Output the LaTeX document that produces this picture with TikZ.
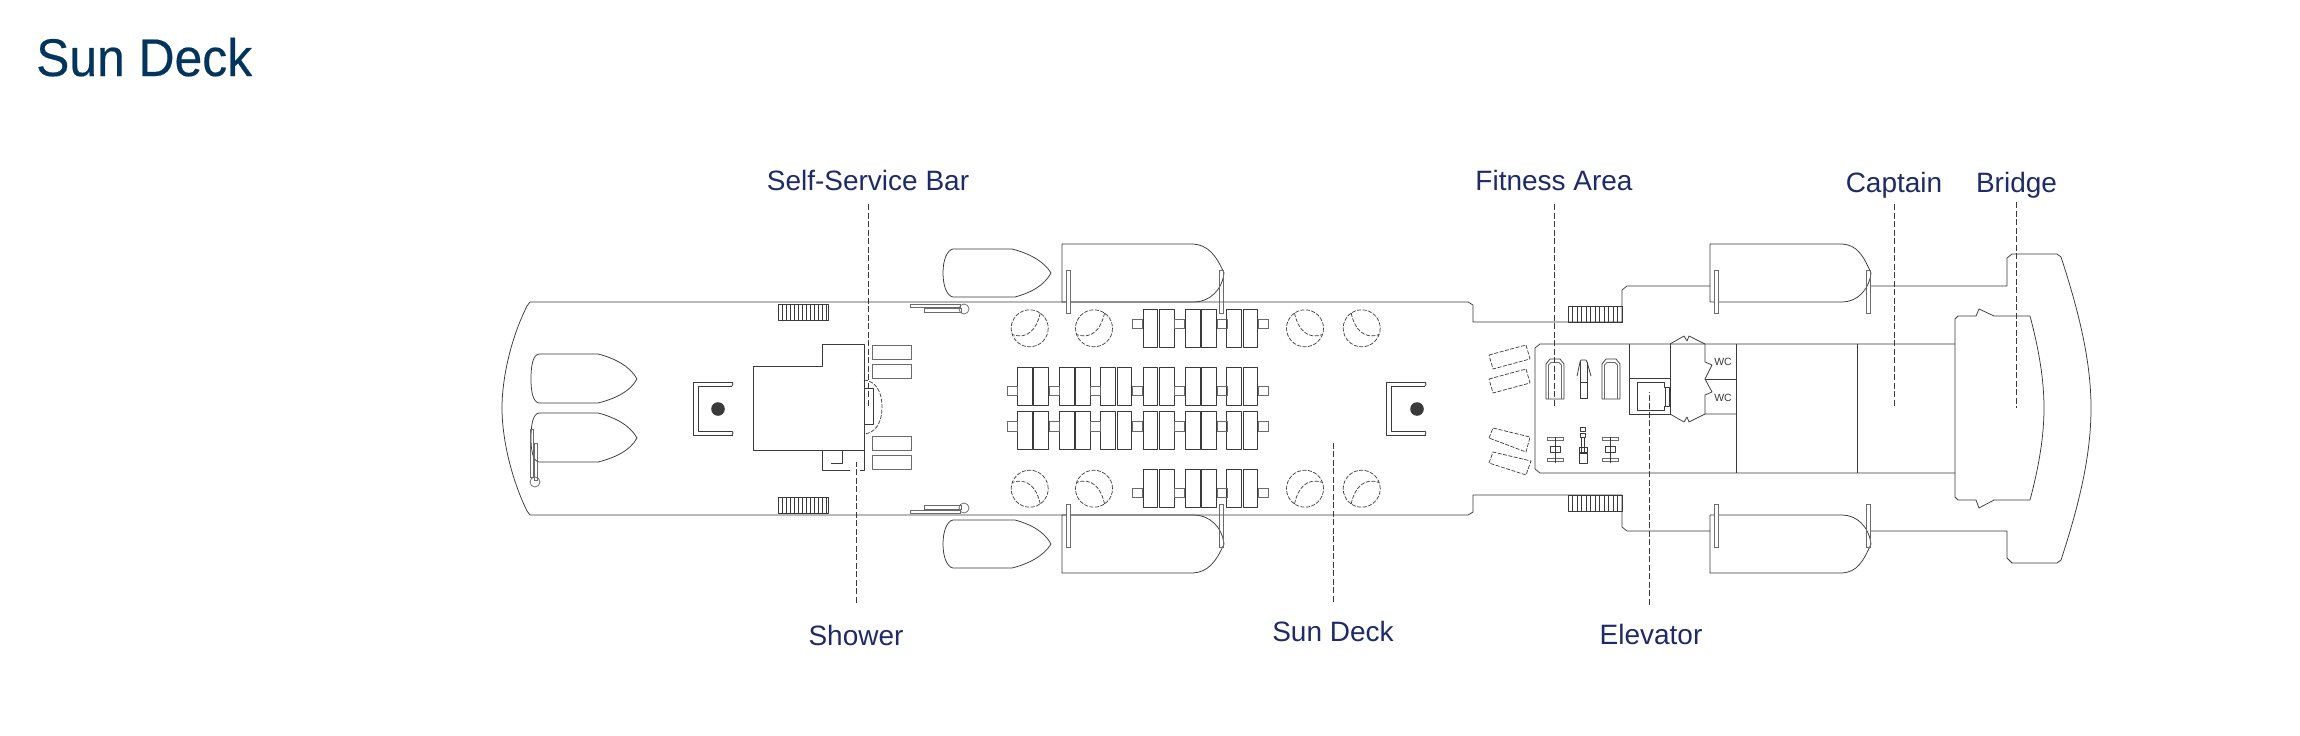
\documentclass[tikz,border=0pt]{standalone}
\usepackage{xcolor}
\usepackage{fontspec}
\setmainfont{Liberation Sans}
\newfontfamily\headfont[FakeStretch=0.94,FakeBold=0.35]{Liberation Sans}
\definecolor{planline}{HTML}{3A3A3A}
\definecolor{headblue}{HTML}{03355C}
\definecolor{tagblue}{HTML}{1F2A6B}
\tikzset{
	plan/.style={draw=planline, line width=0.75pt, line join=round},
	soft/.style={draw=planline!75, line width=0.75pt},
	dashplan/.style={draw=planline, line width=0.7pt, dash pattern=on 4pt off 1.5pt},
	leader/.style={draw=planline, line width=0.8pt, dash pattern=on 6pt off 2.5pt},
	tagtop/.style={font=\fontsize{28}{32}\selectfont, text=tagblue, inner sep=0pt, text depth=0pt, anchor=base},
	tagbot/.style={tagtop, text height=20pt},
}
\begin{document}
\begin{tikzpicture}[x=1pt, y=-1pt]
	\useasboundingbox (0,0) rectangle (2300,736);
	\node[font=\headfont\fontsize{53}{60}\selectfont, text=headblue, inner sep=0pt, anchor=base west] (title) at (36,76) {Sun Deck};

	% hull
	\draw[plan] (530,302) -- (1468,302) -- (1473,305) -- (1473,322) -- (1622,322) -- (1622,290) -- (1627,286) -- (1710,286);
	\draw[plan] (1870,286) -- (2007,286) -- (2007,258) -- (2012,254) -- (2057,254) -- (2061,257)
		.. controls (2081,318) and (2091,365) .. (2091,408)
		.. controls (2091,452) and (2081,499) .. (2061,560)
		-- (2057,563) -- (2012,563) -- (2007,558) -- (2007,531) -- (1870,531);
	\draw[plan] (1710,531) -- (1627,531) -- (1622,527) -- (1622,495) -- (1473,495) -- (1473,512) -- (1468,515) -- (530,515) -- (527,511)
		.. controls (510,476) and (502,436) .. (502,408)
		.. controls (502,380) and (510,340) .. (527,306) -- (530,302);

	% stern boats
	\foreach \y in {354,413} {
		\draw[plan] (539,\y) -- (598,\y) .. controls (614,\y+4) and (630,\y+12) .. (637,\y+25)
			.. controls (630,\y+38) and (614,\y+45) .. (598,\y+49) -- (539,\y+49)
			.. controls (533,\y+48) and (531,\y+38) .. (531,\y+25) .. controls (531,\y+11) and (533,\y+1) .. (539,\y);
	}
	\draw[soft] (530,429) rectangle (533,477);
	\draw[soft] (534,443) rectangle (537,480);
	\draw[soft] (535,482) circle (5);

	% things on both sides
	\foreach \mir/\off in {1/0,-1/817} {
		\begin{scope}[shift={(0,\off)}, yscale=\mir]
			% tender
			\draw[plan] (953,249) -- (1012,249) .. controls (1028,253) and (1044,261) .. (1051,273)
				.. controls (1044,286) and (1030,293) .. (1015,297) -- (953,297)
				.. controls (947,296) and (943,286) .. (943,273) .. controls (943,260) and (947,250) .. (953,249);
			% big boats
			\foreach \x/\a/\b/\e in {1062/1193/1224/1066, 1710/1842/1871/1714} {
				\draw[plan] (\x,302) -- (\x,244) -- (\a,244) .. controls (\a+15,245) and (\b-8,255) .. (\b,273)
					.. controls (\b-2,290) and (\b-14,302) .. (\a,302) -- (\x,302);
				\draw[soft, fill=white] (\e,270) rectangle (\e+4,313);
				\draw[soft] (\b-5,270) rectangle (\b-1,313);
			}
			% stairs
			\foreach \x in {778,782,...,828} {
				\draw[plan] (\x,304) -- (\x,320);
			}
			\draw[plan] (778,304) rectangle (828,320);
			\foreach \x in {1568,1572.5,...,1622} {
				\draw[plan] (\x,306) -- (\x,322);
			}
			\draw[plan] (1568,306) rectangle (1622,322);
			% davit
			\draw[soft] (910,304) rectangle (960,307);
			\draw[soft] (924,308) rectangle (961,312);
			\draw[soft] (964,309) circle (5);
			% round tables
			\foreach \x/\s in {1029.7/1,1094/1,1305/-1,1361.7/-1} {
				\draw[dashplan] (\x,328.3) circle (18.5);
				\draw[dashplan] (\x+\s*10.5,313) .. controls (\x+\s*7.5,328.5) and (\x-\s*2,340) .. (\x-\s*17.5,334.5);
			}
			% short row of seats
			\foreach \x in {1143,1185.3,1226.7} {
				\draw[plan] (\x,309.3) rectangle +(14.7,38.4);
				\draw[plan] (\x+16.2,309.3) rectangle +(14.7,38.4);
			}
			\foreach \x in {1132,1174,1217,1258} {
				\draw[soft] (\x,319.2) rectangle +(10,9.6);
			}
		\end{scope}
	}

	% long rows of seats
	\foreach \y/\t in {367.3/386,411.3/421.3} {
		\foreach \x in {1017.3,1059.3,1100.7,1143,1185.3,1226.7} {
			\draw[plan] (\x,\y) rectangle +(14.7,38.4);
			\draw[plan] (\x+16.2,\y) rectangle +(14.7,38.4);
		}
		\foreach \x in {1007,1049,1090,1132,1174,1217,1258} {
			\draw[soft] (\x,\t) rectangle +(10,9.6);
		}
	}

	% masts
	\foreach \x/\d in {693/718,1386/1417} {
		\draw[plan] (\x+40,382) -- (\x,382) -- (\x,435) -- (\x+40,435);
		\draw[plan] (\x+39,386) -- (\x+5,386) -- (\x+5,431) -- (\x+39,431);
		\draw[plan] (\x+39,382) -- (\x+40,384) -- (\x+39,386);
		\draw[plan] (\x+39,431) -- (\x+40,433) -- (\x+39,435);
		\fill[planline] (\d,409) circle (6.8);
	}

	% bar house
	\draw[plan] (753,366) -- (822,366) -- (822,344) -- (864,344) -- (864,450) -- (753,450) -- cycle;
	\draw[plan] (822,450) -- (822,470) -- (850,470);
	\draw[plan] (860,470) -- (864,470) -- (864,450);
	\draw[plan] (842,450) -- (842,463) -- (831,463);
	\foreach \y in {345,364,436,455} {
		\draw[soft] (872,\y) rectangle (911,\y+14);
	}
	\draw[plan] (864,388) rectangle (873,424);
	\draw[dashplan] (864,380) .. controls (876,381) and (882,392) .. (882,407) .. controls (882,422) and (876,433) .. (864,434);

	% benches
	\draw[dashplan] (1489,355) -- (1526,345) -- (1530,359) -- (1493,369) -- cycle;
	\draw[dashplan] (1489,379) -- (1526,369) -- (1530,383) -- (1493,393) -- cycle;
	\draw[dashplan] (1489,438) -- (1493,428) -- (1530,437) -- (1526,452) -- cycle;
	\draw[dashplan] (1489,463) -- (1493,452) -- (1531,461) -- (1526,475) -- cycle;

	% deckhouse
	\draw[plan] (1955,344) -- (1540,344) -- (1535,348) -- (1535,469) -- (1540,473) -- (1955,473);
	\draw[plan] (1736,344) -- (1736,473);
	\draw[plan] (1857,344) -- (1857,473);
	\draw[plan] (1629.5,344) -- (1629.5,414) -- (1670,414) -- (1670,344);
	\draw[plan] (1629.5,378) -- (1670,378);
	\draw[plan] (1637,382) -- (1664,382) -- (1664,387) -- (1665,387) -- (1665,406) -- (1664,406) -- (1664,410) -- (1637,410) -- cycle;
	\draw[plan] (1665,387) rectangle (1669,406);
	\draw[plan] (1670,344) -- (1684,336) -- (1687,341) -- (1689,336) -- (1705,344);
	\draw[plan] (1670,414) -- (1684,422) -- (1687,417) -- (1689,422) -- (1705,414) -- (1736,414);
	\draw[plan] (1705,344) -- (1705,362) -- (1712,365) -- (1705,379) -- (1712,392) -- (1705,395) -- (1705,414);
	\draw[plan] (1705,379) -- (1736,379);
	\node[font=\fontsize{10.5}{12}\selectfont, text=planline, inner sep=0pt] (wca) at (1723,362) {WC};
	\node[font=\fontsize{10.5}{12}\selectfont, text=planline, inner sep=0pt] (wcb) at (1723,398) {WC};

	% gym
	\foreach \x in {1546,1602} {
		\draw[plan] (\x,399) -- (\x,364) -- (\x+4,359) -- (\x+14,359) -- (\x+18,364) -- (\x+18,399) -- cycle;
		\draw[soft] (\x+2.5,399) -- (\x+2.5,365) -- (\x+5,362.5) -- (\x+13,362.5) -- (\x+15.5,365) -- (\x+15.5,399);
	}
	\draw[plan] (1580,398) -- (1580,382) -- (1587,382) -- (1587,398) -- cycle;
	\draw[plan] (1577,376) -- (1580,362) -- (1581,360) -- (1586,360) -- (1587,362) -- (1591,376);
	\draw[plan] (1580,382) -- (1580,362);
	\draw[plan] (1587,382) -- (1587,362);
	\foreach \x in {1555,1610.5} {
		\draw[soft] (\x-8,437) rectangle (\x+8,440);
		\draw[soft] (\x-8,458) rectangle (\x+8,461);
		\draw[plan] (\x-5,446) rectangle (\x+5,452);
		\draw[plan] (\x,437) -- (\x,463);
	}
	\draw[plan] (1580.5,427) rectangle (1585,431);
	\draw[plan] (1580.5,433) rectangle (1585,437);
	\draw[plan] (1581,437) -- (1581,453);
	\draw[plan] (1584.5,437) -- (1584.5,453);
	\draw[plan] (1579,447) rectangle (1587,452);
	\draw[plan] (1579,453) rectangle (1587,463);

	% bridge
	\draw[plan] (1958,316) -- (1976,316) -- (1979,309) -- (1994,316) -- (2030,316)
		.. controls (2039,350) and (2044,380) .. (2044,408)
		.. controls (2044,436) and (2039,466) .. (2030,500)
		-- (1994,500) -- (1979,508) -- (1976,500) -- (1958,500) -- (1955,497) -- (1955,319) -- cycle;

	% labels and leaders
	\node[tagtop] (selfbar) at (868,190) {Self-Service Bar};
	\node[tagtop] (fitness) at (1554,190) {Fitness Area};
	\node[tagtop] (captain) at (1894,192) {Captain};
	\node[tagtop] (bridge) at (2016.5,192) {Bridge};
	\node[tagbot] (shower) at (856,645) {Shower};
	\node[tagbot] (sundeck) at (1333,641) {Sun Deck};
	\node[tagbot] (elevator) at (1651,644) {Elevator};
	\coordinate (selfbarend) at (868,408);
	\coordinate (fitnessend) at (1554,408);
	\coordinate (captainend) at (1894,408);
	\coordinate (bridgeend) at (2016.5,408);
	\coordinate (showerend) at (856,462);
	\coordinate (sundeckend) at (1333,442);
	\coordinate (elevatorend) at (1649,392);
	\draw[leader] ([yshift=-14pt]selfbar.south) -- (selfbarend);
	\draw[leader] ([yshift=-14pt]fitness.south) -- (fitnessend);
	\draw[leader] ([yshift=-12pt]captain.south) -- (captainend);
	\draw[leader] ([yshift=-10pt]bridge.south) -- (bridgeend);
	\draw[leader] ([yshift=22pt]shower.north) -- (showerend);
	\draw[leader] ([yshift=19pt]sundeck.north) -- (sundeckend);
	\draw[leader] ([xshift=-2pt,yshift=19pt]elevator.north) -- (elevatorend);
\end{tikzpicture}
\end{document}
